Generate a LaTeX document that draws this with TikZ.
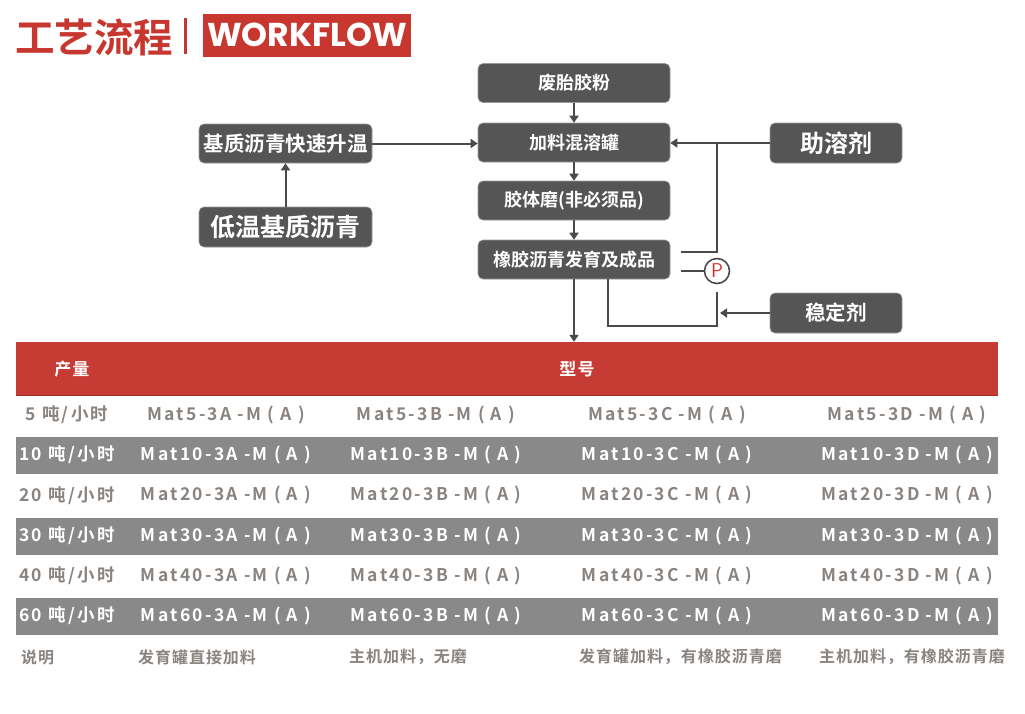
\documentclass[tikz,border=0pt]{standalone}
\usepackage{fontspec}
\usetikzlibrary{arrows.meta}
\newfontfamily\cjk{Noto Sans CJK SC}[BoldFont={Noto Sans CJK SC Bold}]
\newfontfamily\tbl{Noto Sans CJK SC}[BoldFont={Noto Sans CJK SC Bold},LetterSpace=13]
\newfontfamily\note{Noto Sans CJK SC}[BoldFont={Noto Sans CJK SC Bold},LetterSpace=6]
\newfontfamily\lat{Poppins}
\definecolor{boxgray}{HTML}{555555}
\definecolor{linegray}{HTML}{4A4A4A}
\definecolor{titlered}{HTML}{C8372F}
\definecolor{bandred}{HTML}{C63C35}
\definecolor{rowgray}{HTML}{898989}
\definecolor{txtgray}{HTML}{8A8480}

\begin{document}
\begin{tikzpicture}[x=1pt,y=-1pt,
  box/.style={fill=boxgray,draw=boxgray!60,line width=.6pt,rounded corners=5pt,text=white,
    font=\cjk\bfseries\fontsize{18}{20}\selectfont,minimum width=192pt,minimum height=39pt,inner sep=0pt},
  link/.style={draw=linegray,line width=2pt},
  flow/.style={link,-{Triangle[width=9pt,length=7pt]}},
  cell/.style={font=\tbl\bfseries\fontsize{17.5}{19}\selectfont,inner sep=0pt},
  notecell/.style={font=\note\bfseries\fontsize{16}{18}\selectfont,inner sep=0pt,text=txtgray,anchor=west}]
 \useasboundingbox[fill=white] (0,0) rectangle (1025,713);
 % title
 \node[anchor=west,text=titlered,font=\cjk\bfseries\fontsize{39.5}{42}\selectfont,inner sep=0pt] (title) at (15,37) {工艺流程};
 \fill[titlered] (184,18) rectangle (187,54);
 \node[fill=titlered,text=white,font=\lat\bfseries\fontsize{33}{36}\selectfont,minimum width=208pt,minimum height=43pt,inner sep=0pt] (wf) at (307,35) {WORKFLOW};
 % process boxes
 \node[box] (powder) at (574,83) {废胎胶粉};
 \node[box] (mix) at (574,142.5) {加料混溶罐};
 \node[box] (mill) at (574,200.5) {胶体磨(非必须品)};
 \node[box] (finish) at (574,259.5) {橡胶沥青发育及成品};
 \node[box,minimum width=173pt,font=\cjk\bfseries\fontsize{20.5}{22}\selectfont] (heat) at (285.5,143.5) {基质沥青快速升温};
 \node[box,minimum width=173pt,minimum height=40pt,font=\cjk\bfseries\fontsize{25}{27}\selectfont] (lowtemp) at (285.5,227) {低温基质沥青};
 \node[box,minimum width=132pt,minimum height=40pt,font=\cjk\bfseries\fontsize{24}{26}\selectfont] (cosolvent) at (836,143) {助溶剂};
 \node[box,minimum width=132pt,minimum height=40pt,font=\cjk\bfseries\fontsize{20.5}{22}\selectfont] (stabilizer) at (836,313) {稳定剂};
 \node[circle,draw=linegray,line width=1.6pt,fill=white,minimum size=25pt,inner sep=0pt,
   text=titlered,font=\fontsize{20}{20}\selectfont\sffamily] (pump) at (717,271) {P};
 % connectors
 \draw[flow] (powder) -- (mix);
 \draw[flow] (mix) -- (mill);
 \draw[flow] (mill) -- (finish);
 \draw[flow] (lowtemp) -- (heat);
 \draw[flow] (heat.east) -- (heat.east -| mix.west);
 \draw[flow] (cosolvent.west) -- (cosolvent.west -| mix.east);
 \coordinate (tap) at (717,143);
 \draw[link] ([shift={(11,-7.5)}]finish.east) -| (tap);
 \draw[link] ([xshift=11pt]finish.east |- pump.west) -- (pump.west);
 \coordinate (bend) at (608,326);
 \draw[link] ([yshift=-8pt]pump.south) |- (bend) -- (bend |- finish.south);
 \draw[flow] (stabilizer.west) -- ([xshift=3pt]pump.south |- stabilizer.west);
 % table
 \node[fill=bandred,minimum width=982pt,minimum height=53pt,inner sep=0pt] (band) at (507,368.5) {};
 \draw[titlered!80!black,line width=1.2pt] (band.south west) -- (band.south east);
 \draw[flow] (finish.south) -- (finish.south |- band.north);
 \node[notecell,text=white,anchor=center,font=\note\bfseries\fontsize{17}{19}\selectfont] (hout) at (72,369) {产量};
 \node[notecell,text=white,anchor=center,font=\note\bfseries\fontsize{17}{19}\selectfont] (htype) at (577,369) {型号};
 \foreach \yy in {455,536,616}
  \fill[rowgray] (16,\yy-18.5) rectangle (998,\yy+18.5);
 \foreach \t [count=\i] in {5,10,20,30,40,60} {
  \pgfmathsetmacro\yy{374.5+40.25*\i}
  \ifodd\i \def\rc{txtgray}\else\def\rc{white}\fi
  \node[cell,text=\rc] (r\i-0) at (67,\yy) {\t\ 吨/小时};
  \foreach \c/\x in {A/226,B/436,C/667,D/907}
   \node[cell,text=\rc] (r\i-\c) at (\x,\yy) {Mat\t-3\c\ -M ( A )};
 }
 \node[notecell] (n0) at (21,657) {说明};
 \node[notecell] (nA) at (138,657) {发育罐直接加料};
 \node[notecell] (nB) at (349,657) {主机加料，无磨};
 \node[notecell] (nC) at (579,657) {发育罐加料，有橡胶沥青磨};
 \node[notecell] (nD) at (819,657) {主机加料，有橡胶沥青磨};
\end{tikzpicture}
\end{document}
